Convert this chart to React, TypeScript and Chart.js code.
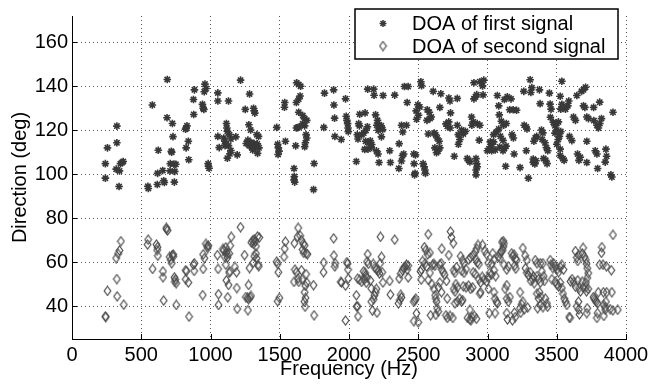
import React, { useEffect, useRef } from "react";
import { Chart, registerables } from "chart.js";

Chart.register(...registerables);

// ---- data ----
const seriesLabels = ["DOA of first signal", "DOA of second signal"];
const xTicks = [0, 500, 1000, 1500, 2000, 2500, 3000, 3500, 4000];
const yTicks = [40, 60, 80, 100, 120, 140, 160];
const xRange = [0, 4000];
const yRange = [25, 172];

// first signal: [frequency (Hz), direction (deg)]
const firstSignal: number[][] = [
  [241,104.8],[241,98.2],[256,112],[324,121.9],[324,114.3],[319,102.3],[340,94.4],[350,104.8],[362,105.3],[370,105.8],[343,101.5],
  [548,94.5],[551,93.5],[580,131.5],[616,95.3],[618,100.4],[623,110.9],[655,101.7],[662,97],[667,96.2],[688,143.1],[686,125.7],
  [725,123.1],[729,117.1],[717,110.4],[720,110],[710,104.8],[736,104.6],[750,104.5],[708,101.5],[742,101.3],[739,96.4],
  [820,120.5],[830,122],[824,121],[840,115],[824,112],[843,106.6],[879,127.2],[877,134],[884,138.4],[942,131.8],[947,130],[952,129.5],
  [960,141],[955,137.5],[968,139],[983,104.8],[985,103.6],[990,102.7],[1053,137],[1053,133.3],[1130,133.3],[1053,117.2],[1063,112.1],
  [1096,116.5],[1103,115],[1110,114],[1105,113],[1115,123.1],[1118,121],[1122,119.5],[1137,118],[1147,116],[1130,113],[1147,110.8],
  [1140,109.3],[1122,107.3],[1183,117],[1193,108.8],[1217,142.8],[1251,129.5],[1282,136.5],[1277,122.5],[1290,120.1],[1311,130],
  [1316,128.8],[1320,127.8],[1335,118],[1347,117.2],[1258,114],[1270,115.5],[1280,113],[1292,114.5],[1300,112],[1305,111],[1315,114],
  [1325,112.5],[1338,113.8],[1350,112],[1340,109.5],[1478,121.3],[1485,113.6],[1490,112],[1495,110.5],[1488,109],[1536,132.6],
  [1534,130.5],[1541,115],[1603,102.6],[1605,98.9],[1603,97.4],[1608,96.4],[1615,112.9],[1620,121],[1630,121.2],[1640,121.5],
  [1622,141.6],[1637,140.8],[1651,140],[1620,132.6],[1637,134.2],[1647,135.6],[1637,128.2],[1666,126.7],[1680,125.2],[1695,124.5],
  [1666,123],[1680,122],[1690,118],[1695,116.5],[1685,114.3],[1680,112.5],[1748,104.9],[1744,93],[1823,136.9],[1818,121.3],
  [1889,138.4],[1891,131.5],[1896,125.5],[1898,117.2],[1944,115.8],[1975,134.3],[1980,126.4],[1985,124.5],[1990,123],[1993,121],
  [1995,119.4],[2053,105.8],[2060,118],[2065,116],[2077,127.3],[2116,127.9],[2070,123],[2075,122],[2092,118],[2106,118.7],[2123,120],
  [2133,121.6],[2135,138.7],[2178,138.7],[2181,135.9],[2192,127],[2206,124.5],[2218,122.4],[2225,121],[2210,120],[2243,120.3],
  [2233,122],[2200,122.3],[2120,115],[2142,114.3],[2154,115.2],[2164,113.5],[2113,111.3],[2137,111.4],[2161,112.2],[2198,110.6],
  [2210,109.2],[2217,105.3],[2234,117],[2246,135.8],[2294,110.7],[2299,105.3],[2330,136],[2362,113.9],[2360,102.6],[2379,106],
  [2386,108.5],[2395,109.2],[2400,139.9],[2427,139.9],[2388,119.2],[2379,122.3],[2420,132.6],[2415,122.3],[2468,109.2],[2480,108.8],
  [2470,104.8],[2477,100.4],[2473,99.7],[2488,125],[2502,126.8],[2511,130.6],[2497,131.6],[2485,128.8],[2519,142.1],[2524,140.3],
  [2535,104.8],[2543,103.4],[2548,101.9],[2552,100.4],[2565,129.3],[2580,128.2],[2594,126],[2585,125.3],[2563,124.5],[2572,118.3],
  [2608,137.7],[2615,118.7],[2625,118],[2637,116.5],[2651,115],[2620,112],[2632,109.8],[2642,110.5],[2656,112],[2656,130.4],
  [2663,136.6],[2700,122.9],[2710,121.8],[2730,121],[2720,123.8],[2721,134.7],[2729,133.3],[2782,134.5],[2733,127.9],[2760,108.2],
  [2782,122.3],[2789,118],[2800,115.8],[2790,113.6],[2813,120.1],[2825,118.3],[2840,119.5],[2854,107.1],[2864,106.3],[2873,105.6],
  [2885,126],[2897,123.8],[2887,122.3],[2902,134.3],[2914,135.2],[2922,136.2],[2902,141.6],[2945,142.1],[2964,140.2],[2973,142.8],
  [2968,136.1],[2917,107.1],[2922,104.8],[2917,101.9],[2917,99.7],[2926,103.4],[2926,123],[2940,115.5],[2945,122.3],[2999,110.7],
  [3011,111.6],[3023,112.4],[3030,110.7],[3020,114.7],[3032,113.6],[3044,114.7],[3044,118],[3064,119.2],[3081,120.6],[3093,117.3],
  [3112,115.4],[3056,111],[3088,112.4],[3112,110.7],[3122,111.7],[3134,112.8],[3071,135.8],[3081,131.1],[3085,127],[3122,134],
  [3143,135.2],[3170,134.3],[3100,124.1],[3117,122.3],[3136,123.1],[3160,129.3],[3185,129.3],[3210,129.1],[3131,103.6],[3177,118],
  [3187,116.5],[3192,109.2],[3235,103],[3262,137.7],[3265,122.3],[3280,121.5],[3285,120.6],[3280,110.7],[3308,143],[3320,139.4],
  [3313,137.2],[3295,98.2],[3330,106.9],[3330,105.4],[3342,104.7],[3350,106.1],[3335,115],[3345,116.5],[3355,117.2],[3375,138.4],
  [3380,132.1],[3390,120.1],[3400,118.8],[3395,115.8],[3415,114.3],[3425,112.1],[3435,110.7],[3405,107.1],[3420,106.3],[3430,104.8],
  [3447,136.9],[3452,131.9],[3459,129.6],[3454,125.9],[3475,123.7],[3487,122.1],[3500,123.1],[3512,123.8],[3487,118.7],[3500,120.1],
  [3519,117.2],[3529,119.4],[3510,115.8],[3500,113.6],[3525,111.4],[3525,108.5],[3544,107.1],[3553,106.3],[3525,135.5],[3529,129.6],
  [3537,131.8],[3537,142.3],[3563,129.6],[3587,133.3],[3580,131.1],[3592,117.2],[3609,115.3],[3621,126],[3635,124.5],[3645,135.8],
  [3679,137.7],[3693,138.4],[3708,139.6],[3650,109.2],[3660,106.3],[3670,107.7],[3693,131.1],[3703,130.4],[3717,126],[3729,125.3],
  [3766,130.4],[3778,110.7],[3790,109.2],[3810,132.8],[3790,122.3],[3811,123.1],[3823,125.3],[3801,121],[3768,124.4],[3717,105.3],
  [3717,115],[3795,102.6],[3855,111.4],[3860,108.2],[3850,105.5],[3891,99.7],[3898,98.7],[3906,128.2],
];

// second signal: [frequency (Hz), direction (deg)]
const secondSignal: number[][] = [
  [241,35.3],[244,35],[256,46.9],[324,52.3],[326,44.4],[319,61.8],[333,63.8],[343,65.3],[353,69.5],[374,40.6],[550,70.2],[546,68],
  [582,56.9],[610,68],[617,66.8],[620,62.9],[615,65.5],[657,55.8],[662,42.5],[657,53.1],[681,75.6],[683,75],[690,74.4],[705,62.4],
  [713,61],[720,59.5],[725,63.2],[731,63.5],[731,62.5],[740,53.1],[745,52.1],[752,50.4],[743,51],[753,40.5],[821,56.3],[826,55.9],
  [840,50.7],[821,52.2],[845,35.2],[877,58.8],[884,59.5],[882,56],[947,63.5],[956,61.8],[947,56.9],[944,45],[967,68.3],[976,67.3],
  [980,66.4],[985,67.5],[1050,63.2],[1055,56.9],[1058,45.4],[1058,40.5],[1090,66],[1096,65.3],[1111,66.7],[1115,64.6],[1135,63.9],
  [1120,63.5],[1103,62.4],[1122,62.1],[1111,58.8],[1115,51.7],[1130,49.6],[1135,55.1],[1140,55.8],[1142,67.5],[1150,71.5],[1125,44],
  [1193,38.7],[1176,57.8],[1188,55.4],[1190,48.2],[1217,75.9],[1246,63.2],[1255,44.1],[1268,43.7],[1275,43.1],[1285,44],[1292,44.6],
  [1270,38.1],[1275,49.6],[1282,57.3],[1295,68.9],[1305,69.8],[1316,70.4],[1323,69.4],[1311,68.3],[1328,67.2],[1340,71.7],[1352,71.2],
  [1328,63.9],[1316,62.7],[1333,61.7],[1343,58.8],[1348,58.1],[1309,59.8],[1478,60.2],[1485,59.2],[1490,55.4],[1485,42.2],[1497,43.7],
  [1541,69.3],[1536,66.1],[1531,62.4],[1606,68.6],[1628,71.5],[1633,75.6],[1647,72.1],[1657,70],[1670,68.3],[1680,67.6],[1665,65.7],
  [1673,64.2],[1690,63.9],[1700,63.6],[1610,56.6],[1620,55.4],[1632,52.5],[1637,51],[1603,51],[1657,56.3],[1662,52],[1690,54.5],
  [1695,50.7],[1685,49.2],[1680,46.3],[1686,43.7],[1678,42],[1683,39.7],[1744,49.5],[1748,35.8],[1818,59.8],[1816,55.4],[1889,70.8],
  [1891,63],[1900,59.5],[1898,58],[1941,51],[1975,49.3],[1975,33.4],[1985,60],[1990,59.3],[1993,56.6],[1995,52.5],[1945,50.7],
  [2053,44.9],[2055,39.8],[2062,39.9],[2065,35.3],[2063,52.5],[2077,51.9],[2091,51],[2106,55.8],[2116,55.1],[2120,53.9],[2130,52.9],
  [2135,63.6],[2130,60.2],[2140,59.2],[2110,52],[2125,50.6],[2154,51.6],[2161,48],[2175,59.2],[2187,57.4],[2200,56.6],[2212,56],
  [2220,54.8],[2235,62.4],[2225,59.5],[2161,42],[2169,37.9],[2178,43.1],[2198,47.8],[2193,46.3],[2184,44.9],[2227,71.5],[2240,55.4],
  [2245,50.7],[2294,51.4],[2299,45.2],[2330,70.2],[2362,52.5],[2374,54.8],[2386,56.3],[2396,57.4],[2405,57.8],[2420,56.6],[2427,58.4],
  [2415,58.8],[2374,45.1],[2379,43.9],[2367,42.8],[2357,41.2],[2427,53],[2468,41.9],[2475,42.6],[2482,43.4],[2468,33.1],[2487,36.7],
  [2516,55.7],[2523,56.7],[2521,52],[2545,66.8],[2555,65.4],[2569,63.5],[2584,64.2],[2572,72.7],[2532,60.5],[2550,59.5],[2560,58],
  [2572,51.9],[2584,55.1],[2603,58.7],[2613,59.2],[2620,58.3],[2598,50],[2613,47.8],[2622,44.9],[2627,43.4],[2632,42],[2637,39],
  [2644,37.5],[2589,35.8],[2656,58.8],[2666,59.5],[2670,56.6],[2670,66.1],[2680,55.4],[2690,54.2],[2656,50.7],[2668,46.3],[2646,48.5],
  [2704,51.4],[2709,43.4],[2700,35.8],[2710,34.6],[2721,63.2],[2733,73.9],[2740,71.3],[2753,68.6],[2757,56.3],[2764,55.1],[2776,57.7],
  [2757,47.8],[2765,46.6],[2782,48.5],[2772,50],[2765,41.2],[2782,42],[2806,62.7],[2820,60.9],[2830,59.5],[2815,56],[2830,55.1],
  [2845,56.8],[2800,43.4],[2813,42],[2820,42.7],[2825,49],[2845,48.5],[2864,49.3],[2878,47.8],[2893,48.5],[2856,34.6],[2873,33.9],
  [2887,35],[2873,38.3],[2864,61.1],[2878,62.1],[2897,63.2],[2912,64.7],[2922,66.1],[2931,67.8],[2917,61.3],[2926,59.8],[2938,59.1],
  [2897,55.4],[2912,54.6],[2938,52.2],[2950,50.7],[2962,53.3],[2950,46.3],[2945,45.6],[2964,67.8],[2981,65.1],[2993,63.6],[3005,59.6],
  [2975,52],[2993,51.1],[3005,53],[3017,55.1],[3008,47.8],[3013,36.8],[3038,64],[3047,61.1],[3030,59.3],[3047,56.3],[3059,53.6],
  [3030,54.3],[3047,46.3],[3054,43.4],[3066,42],[3071,41.2],[3090,64],[3100,64.8],[3110,65.5],[3114,67],[3119,68.4],[3105,69.1],
  [3114,69.6],[3080,62.4],[3090,61.7],[3119,58.8],[3139,56.6],[3150,58.1],[3139,49.5],[3127,47.8],[3139,43.4],[3150,42],[3162,44.1],
  [3139,36.8],[3144,33.9],[3175,64],[3182,62.7],[3192,63.4],[3202,61.5],[3211,60.9],[3197,58.4],[3204,57],[3235,39],[3247,40.8],
  [3255,42],[3235,46.3],[3255,66.4],[3272,63],[3284,60.9],[3274,57.2],[3284,55.1],[3296,53.9],[3308,55.4],[3327,52.2],[3313,51.4],
  [3337,50.4],[3332,53.5],[3345,60.9],[3357,59.5],[3381,59.5],[3400,59.5],[3393,55.8],[3405,53.6],[3410,51.4],[3381,50.7],[3369,52.2],
  [3357,53.6],[3357,45.6],[3369,43.4],[3381,40.5],[3362,39],[3376,46.3],[3386,44.1],[3417,43.4],[3429,41.2],[3434,39.7],[3453,60.9],
  [3458,58.8],[3472,57.3],[3477,59.5],[3489,58.1],[3501,56.6],[3513,55.4],[3525,57.7],[3537,58.8],[3549,56.6],[3465,52.2],[3489,51.1],
  [3501,49.9],[3513,48.9],[3525,50.7],[3537,48.2],[3545,45.6],[3554,43.4],[3564,42],[3573,40.5],[3590,35],[3596,34.6],[3599,51.2],
  [3611,52.3],[3623,50.9],[3635,48.8],[3652,51.7],[3661,48.2],[3671,46.6],[3683,51],[3690,48.5],[3635,65],[3645,62.1],[3659,63.3],
  [3652,60.5],[3690,66.5],[3686,63.9],[3700,62.4],[3710,61],[3715,59.2],[3720,57.2],[3727,55],[3720,52.8],[3710,50.7],[3710,48.6],
  [3715,46.7],[3727,47.8],[3657,42],[3645,39.9],[3659,38.4],[3664,36.2],[3765,44.1],[3770,43.4],[3778,42.7],[3785,42],[3795,41.2],
  [3790,34.6],[3795,36.8],[3800,46.3],[3837,46.3],[3861,46.3],[3898,46.3],[3810,58.8],[3834,58.8],[3858,58.1],[3894,56.3],[3826,66.8],
  [3823,64.2],[3850,38.3],[3885,38.6],[3906,72.4],[3855,42],[3840,40.5],
  [2202,37],[2500,32.6],[2627,36],[2730,35.5],[2750,34.6],[2880,33.5],[2905,35.5],[2920,34.2],[3055,36.8],[3180,33.5],[3195,37],
  [3200,35],[3240,37],[3265,38.5],[3290,39.3],[3400,39.5],[3717,36.8],[3720,39],[3840,35.5],[3850,39.5],[3905,38],[3940,38.3],
];

const FONT = "'Liberation Sans', Arial, Helvetica, sans-serif";
const STAR_COLOR = "#383838";
const DIAMOND_COLOR = "#4a4a4a";

function makeDiamond(): HTMLCanvasElement {
  const c = document.createElement("canvas");
  c.width = 9;
  c.height = 11;
  const g = c.getContext("2d")!;
  g.strokeStyle = DIAMOND_COLOR;
  g.lineWidth = 1.2;
  g.beginPath();
  g.moveTo(4.5, 1);
  g.lineTo(7.8, 5.5);
  g.lineTo(4.5, 10);
  g.lineTo(1.2, 5.5);
  g.closePath();
  g.stroke();
  return c;
}

function drawAsterisk(ctx: CanvasRenderingContext2D, x: number, y: number, r: number) {
  ctx.save();
  ctx.strokeStyle = STAR_COLOR;
  ctx.lineWidth = 1.5;
  ctx.beginPath();
  ctx.moveTo(x - r, y); ctx.lineTo(x + r, y);
  ctx.moveTo(x, y - r); ctx.lineTo(x, y + r);
  const d = r * Math.SQRT1_2;
  ctx.moveTo(x - d, y - d); ctx.lineTo(x + d, y + d);
  ctx.moveTo(x - d, y + d); ctx.lineTo(x + d, y - d);
  ctx.stroke();
  ctx.restore();
}

export default function App() {
  const ref = useRef<HTMLCanvasElement>(null);

  useEffect(() => {
    document.body.style.margin = "0";
    const canvas = ref.current!;
    const diamond = makeDiamond();

    const inwardTicks = {
      id: "inwardTicks",
      afterDraw(chart: any) {
        const { ctx, chartArea, scales } = chart;
        ctx.save();
        ctx.strokeStyle = "#000";
        ctx.lineWidth = 1;
        ctx.beginPath();
        for (const v of yTicks) {
          const y = Math.round(scales.y.getPixelForValue(v)) + 0.5;
          ctx.moveTo(chartArea.left, y);
          ctx.lineTo(chartArea.left + 5, y);
        }
        for (const v of xTicks) {
          const x = Math.round(scales.x.getPixelForValue(v)) + 0.5;
          ctx.moveTo(x, chartArea.bottom);
          ctx.lineTo(x, chartArea.bottom - 5);
        }
        ctx.stroke();
        ctx.restore();
      },
    };

    const boxLegend = {
      id: "boxLegend",
      afterDraw(chart: any) {
        const ctx = chart.ctx as CanvasRenderingContext2D;
        const x0 = 355, y0 = 9, x1 = 618, y1 = 59;
        ctx.save();
        ctx.fillStyle = "#fff";
        ctx.fillRect(x0, y0, x1 - x0, y1 - y0);
        ctx.strokeStyle = "#000";
        ctx.lineWidth = 1.5;
        ctx.strokeRect(x0, y0, x1 - x0, y1 - y0);
        const rows = [23.5, 46];
        ctx.font = `20px ${FONT}`;
        ctx.fillStyle = "#000";
        ctx.textBaseline = "middle";
        ctx.textAlign = "left";
        chart.data.datasets.forEach((ds: any, i: number) => {
          const cy = rows[i];
          if (i === 0) drawAsterisk(ctx, 383, cy, 3.5);
          else ctx.drawImage(diamond, 383 - diamond.width / 2, cy - diamond.height / 2);
          ctx.fillText(ds.label, 412, cy + 1);
        });
        ctx.restore();
      },
    };

    const chart = new Chart(canvas, {
      type: "scatter",
      data: {
        datasets: [
          {
            label: seriesLabels[0],
            data: firstSignal.map(([x, y]) => ({ x, y })),
            pointStyle: "star",
            pointRadius: 3.8,
            borderColor: STAR_COLOR,
            backgroundColor: STAR_COLOR,
            borderWidth: 1.6,
          },
          {
            label: seriesLabels[1],
            data: secondSignal.map(([x, y]) => ({ x, y })),
            pointStyle: diamond as any,
            pointRadius: 4,
            borderColor: DIAMOND_COLOR,
            backgroundColor: "rgba(0,0,0,0)",
            borderWidth: 1,
          },
        ],
      },
      options: {
        responsive: false,
        animation: false,
        devicePixelRatio: 1,
        layout: { padding: { left: 0, right: 44, top: 3, bottom: 0 } },
        plugins: {
          legend: { display: false },
          tooltip: { enabled: false },
        },
        scales: {
          x: {
            type: "linear",
            min: xRange[0],
            max: xRange[1],
            afterBuildTicks: (axis: any) => {
              axis.ticks = xTicks.map((v) => ({ value: v }));
            },
            afterFit: (scale: any) => {
              scale.height = 51;
            },
            ticks: {
              color: "#000",
              font: { family: FONT, size: 20 },
              padding: 4,
              maxRotation: 0,
              autoSkip: false,
              callback: (v: any) => String(v),
            },
            grid: {
              color: "rgba(0,0,0,0.65)",
              lineWidth: 1,
              drawTicks: false,
            },
            border: { display: true, color: "#000", width: 1, dash: [1, 3] },
            title: {
              display: true,
              text: "Frequency (Hz)",
              color: "#000",
              font: { family: FONT, size: 20 },
              padding: { top: 0, bottom: 9 },
            },
          },
          y: {
            type: "linear",
            min: yRange[0],
            max: yRange[1],
            afterBuildTicks: (axis: any) => {
              axis.ticks = yTicks.map((v) => ({ value: v }));
            },
            afterFit: (scale: any) => {
              scale.width = 72;
            },
            ticks: {
              color: "#000",
              font: { family: FONT, size: 20 },
              padding: 4,
              autoSkip: false,
              callback: (v: any) => String(v),
            },
            grid: {
              color: "rgba(0,0,0,0.65)",
              lineWidth: 1,
              drawTicks: false,
            },
            border: { display: true, color: "#000", width: 1, dash: [1, 3] },
            title: {
              display: true,
              text: "Direction (deg)",
              color: "#000",
              font: { family: FONT, size: 20 },
              padding: { top: 8, bottom: 0 },
            },
          },
        },
      },
      plugins: [inwardTicks, boxLegend],
    });

    return () => chart.destroy();
  }, []);

  return (
    <div style={{ width: 670, height: 390 }}>
      <canvas ref={ref} width={670} height={390} style={{ display: "block" }} />
    </div>
  );
}
